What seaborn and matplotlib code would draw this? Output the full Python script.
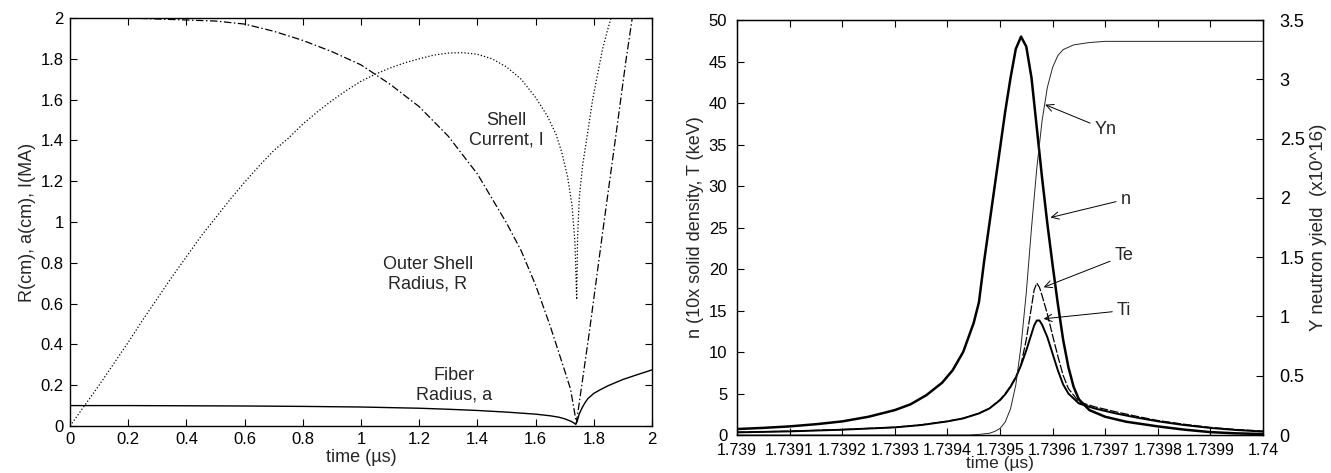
import numpy as np
import matplotlib
matplotlib.use('Agg')
import matplotlib.pyplot as plt
import seaborn as sns
from matplotlib.ticker import FuncFormatter

# ---------------- left panel data (time in us)
t_fiber = [0.0, 0.2, 0.4, 0.6, 0.8, 1.0, 1.2, 1.3, 1.4, 1.5, 1.6, 1.65, 1.68, 1.70,
           1.72, 1.73, 1.738, 1.742, 1.75, 1.76, 1.77, 1.78, 1.80, 1.825, 1.85,
           1.875, 1.90, 1.95, 2.0]
fiber_a = [0.1, 0.1, 0.099, 0.098, 0.096, 0.093, 0.087, 0.082, 0.076, 0.068, 0.058,
           0.05, 0.043, 0.035, 0.024, 0.016, 0.008, 0.02, 0.06, 0.09, 0.115, 0.135,
           0.16, 0.18, 0.198, 0.213, 0.228, 0.252, 0.275]

t_shell = [0.0, 0.2, 0.4, 0.5, 0.6, 0.7, 0.8, 0.9, 1.0, 1.1, 1.2, 1.3, 1.4, 1.5,
           1.55, 1.6, 1.65, 1.7, 1.72, 1.74, 1.784, 1.83, 1.877, 1.911, 1.932]
shell_R = [2.0, 2.0, 1.99, 1.985, 1.97, 1.935, 1.89, 1.835, 1.77, 1.675, 1.565, 1.42,
           1.235, 0.995, 0.86, 0.69, 0.49, 0.27, 0.18, 0.015, 0.455, 0.947, 1.438,
           1.799, 2.0]

t_curr = [0.0, 0.05, 0.1, 0.15, 0.2, 0.25, 0.3, 0.35, 0.4, 0.45, 0.5, 0.55, 0.6,
          0.65, 0.7, 0.75, 0.8, 0.85, 0.9, 0.95, 1.0, 1.05, 1.1, 1.15, 1.2, 1.25,
          1.3, 1.35, 1.4, 1.45, 1.5, 1.55, 1.6, 1.64, 1.67, 1.69, 1.71, 1.725, 1.735,
          1.741, 1.744, 1.75, 1.761, 1.78, 1.796, 1.815, 1.83, 1.845, 1.859]
curr_I = [0.0, 0.1, 0.2, 0.305, 0.41, 0.52, 0.625, 0.73, 0.83, 0.93, 1.02, 1.11,
          1.195, 1.275, 1.35, 1.41, 1.48, 1.54, 1.595, 1.645, 1.69, 1.725, 1.755,
          1.78, 1.80, 1.818, 1.828, 1.83, 1.822, 1.80, 1.76, 1.70, 1.61, 1.52, 1.43,
          1.34, 1.22, 1.08, 0.9, 0.62, 0.92, 1.12, 1.274, 1.45, 1.602, 1.74, 1.848,
          1.93, 2.0]

left_ticks = [0, 0.2, 0.4, 0.6, 0.8, 1, 1.2, 1.4, 1.6, 1.8, 2]

# ---------------- right panel data
t_n = [1.73900, 1.73905, 1.73910, 1.73915, 1.73920, 1.73925, 1.73930, 1.73933,
       1.73936, 1.73939, 1.73941, 1.73943, 1.73945, 1.73946, 1.73947, 1.73948,
       1.73949, 1.73950, 1.73951, 1.73952, 1.73953, 1.73954, 1.73955, 1.73956,
       1.73957, 1.73958, 1.73959, 1.73960, 1.73961, 1.73962, 1.73963, 1.73964,
       1.73965, 1.73967, 1.73970, 1.73974, 1.73980, 1.73985, 1.73990, 1.73995,
       1.74000]
dens_n = [0.72, 0.86, 1.04, 1.3, 1.64, 2.2, 3.0, 3.7, 4.8, 6.3, 7.8, 10.0, 13.5,
          16.0, 21.0, 25.5, 30.0, 34.5, 39.0, 43.0, 46.5, 48.0, 46.8, 43.0, 37.0,
          31.0, 25.5, 20.5, 15.8, 11.5, 8.2, 5.8, 4.3, 3.0, 2.2, 1.6, 1.04, 0.65,
          0.35, 0.2, 0.12]

t_ti = [1.73900, 1.73910, 1.73920, 1.73930, 1.73935, 1.73940, 1.73943, 1.73946,
        1.73948, 1.73950, 1.73951, 1.73952, 1.73953, 1.73954, 1.73955, 1.73956,
        1.739565, 1.73957, 1.739575, 1.73958, 1.73959, 1.73960, 1.73961, 1.73962,
        1.73963, 1.73965, 1.73968, 1.73972, 1.73976, 1.73980, 1.73985, 1.73990,
        1.73995, 1.74000]
temp_ti = [0.32, 0.44, 0.64, 0.92, 1.2, 1.64, 2.0, 2.6, 3.2, 4.2, 4.9, 5.8, 6.9,
           8.4, 10.2, 12.2, 13.2, 13.8, 13.8, 13.3, 11.8, 9.8, 7.8, 6.1, 5.0, 3.8,
           3.2, 2.6, 2.1, 1.65, 1.2, 0.85, 0.6, 0.42]

t_te = [1.73900, 1.73910, 1.73920, 1.73930, 1.73935, 1.73940, 1.73943, 1.73946,
        1.73948, 1.73950, 1.73951, 1.73952, 1.73953, 1.73954, 1.73955, 1.73956,
        1.739565, 1.73957, 1.739575, 1.73958, 1.73959, 1.73960, 1.73961, 1.73962,
        1.73963, 1.73965, 1.73968, 1.73972, 1.73976, 1.73980, 1.73985, 1.73990,
        1.73995, 1.74000]
temp_te = [0.34, 0.46, 0.66, 0.94, 1.22, 1.66, 2.02, 2.62, 3.22, 4.25, 5.0, 5.9, 7.0,
           8.5, 11.5, 15.5, 17.5, 18.3, 17.8, 16.8, 14.6, 12.0, 9.5, 7.2, 5.6, 4.0,
           3.4, 2.8, 2.25, 1.75, 1.3, 0.92, 0.66, 0.47]

t_yn = [1.73900, 1.73944, 1.73946, 1.73948, 1.73949, 1.73950, 1.73951, 1.73952,
        1.73953, 1.73954, 1.73955, 1.73956, 1.73957, 1.73958, 1.73959, 1.73960,
        1.73961, 1.73962, 1.73964, 1.73967, 1.73970, 1.74000]
yield_yn = [0.0, 0.0, 0.005, 0.015, 0.03, 0.055, 0.11, 0.22, 0.42, 0.75, 1.2, 1.75,
            2.25, 2.65, 2.93, 3.1, 3.2, 3.25, 3.29, 3.31, 3.32, 3.32]

right_xticks = [1.739, 1.7391, 1.7392, 1.7393, 1.7394, 1.7395, 1.7396, 1.7397,
                1.7398, 1.7399, 1.74]
right_yticks = [0, 5, 10, 15, 20, 25, 30, 35, 40, 45, 50]
yield_ticks = [0, 0.5, 1, 1.5, 2, 2.5, 3, 3.5]

sns.set_style('ticks', {'xtick.direction': 'in', 'ytick.direction': 'in',
                        'axes.edgecolor': 'black'})
plt.rcParams['font.family'] = ['Liberation Sans', 'DejaVu Sans']
plt.rcParams['font.size'] = 12

fmt = FuncFormatter(lambda v, p: '%g' % round(v, 6))

fig = plt.figure(figsize=(13.31, 4.73), dpi=100)

# ================= left panel
ax1 = fig.add_axes([0.0526, 0.0994, 0.4373, 0.8626])
sns.lineplot(x=t_fiber, y=fiber_a, ax=ax1, color='k', lw=1.0, sort=False, estimator=None)
sns.lineplot(x=t_shell, y=shell_R, ax=ax1, color='k', lw=0.9, sort=False, estimator=None)
ax1.lines[-1].set_dashes([6, 2, 1.2, 2])
sns.lineplot(x=t_curr, y=curr_I, ax=ax1, color='k', lw=0.9, sort=False, estimator=None)
ax1.lines[-1].set_linestyle(':')
ax1.set_xlim(0, 2)
ax1.set_ylim(0, 2)
ax1.set_xticks(left_ticks)
ax1.set_yticks(left_ticks)
ax1.xaxis.set_major_formatter(fmt)
ax1.yaxis.set_major_formatter(fmt)
ax1.tick_params(top=True, right=True, length=5, width=0.8, labelsize=12, pad=4.5,
                colors='k')
ax1.set_xlabel('time (µs)', fontsize=13, labelpad=1)
ax1.set_ylabel('R(cm), a(cm), I(MA)', fontsize=13, labelpad=3)
ax1.text(1.5, 1.45, 'Shell\nCurrent, I', ha='center', va='center', fontsize=13,
         linespacing=1.2)
ax1.text(1.23, 0.745, 'Outer Shell\nRadius, R', ha='center', va='center', fontsize=13,
         linespacing=1.2)
ax1.text(1.32, 0.2, 'Fiber\nRadius, a', ha='center', va='center', fontsize=13,
         linespacing=1.2)
for s in ax1.spines.values():
    s.set_linewidth(1.0)

# ================= right panel
ax2 = fig.add_axes([0.5537, 0.0803, 0.3952, 0.8774])
sns.lineplot(x=t_n, y=dens_n, ax=ax2, color='k', lw=1.8, sort=False, estimator=None)
sns.lineplot(x=t_ti, y=temp_ti, ax=ax2, color='k', lw=1.4, sort=False, estimator=None)
sns.lineplot(x=t_te, y=temp_te, ax=ax2, color='k', lw=0.9, sort=False, estimator=None)
ax2.lines[-1].set_dashes([7, 1.5])
ax2.set_xlim(1.739, 1.74)
ax2.set_ylim(0, 50)
ax2.set_xticks(right_xticks)
ax2.set_yticks(right_yticks)
ax2.xaxis.set_major_formatter(fmt)
ax2.yaxis.set_major_formatter(fmt)
ax2.tick_params(axis='x', top=True, length=5, width=0.8, labelsize=11.5, pad=5.5,
                colors='k')
ax2.tick_params(axis='y', length=5, width=0.8, labelsize=12, pad=7, colors='k')
ax2.set_xlabel('time (µs)', fontsize=12.5, labelpad=-1)
ax2.set_ylabel('n (10x solid density, T (keV)', fontsize=13, labelpad=3)

ax3 = ax2.twinx()
sns.lineplot(x=t_yn, y=yield_yn, ax=ax3, color='0.15', lw=0.7, sort=False, estimator=None)
ax3.set_ylim(0, 3.5)
ax3.set_yticks(yield_ticks)
ax3.yaxis.set_major_formatter(fmt)
ax3.tick_params(axis='y', direction='in', length=5, width=0.8, labelsize=13, pad=12,
                colors='k')
ax3.set_ylabel('Y neutron yield  (x10^16)', fontsize=13.5, labelpad=4)

arrow = dict(arrowstyle='->', lw=0.7, color='k', shrinkA=1, shrinkB=0)
labels = [('Yn', 1.739701, 36.8, 1.739586, 39.8),
          ('n', 1.739739, 28.4, 1.739596, 26.2),
          ('Te', 1.739736, 21.6, 1.739583, 17.8),
          ('Ti', 1.739736, 15.0, 1.739583, 14.0)]
for name, tx, ty, px, py in labels:
    ax2.annotate(name, xy=(px, py), xytext=(tx, ty), ha='center', va='center',
                 fontsize=13, arrowprops=arrow)
for s in ax2.spines.values():
    s.set_linewidth(1.0)

plt.savefig('out.png', dpi=100)
